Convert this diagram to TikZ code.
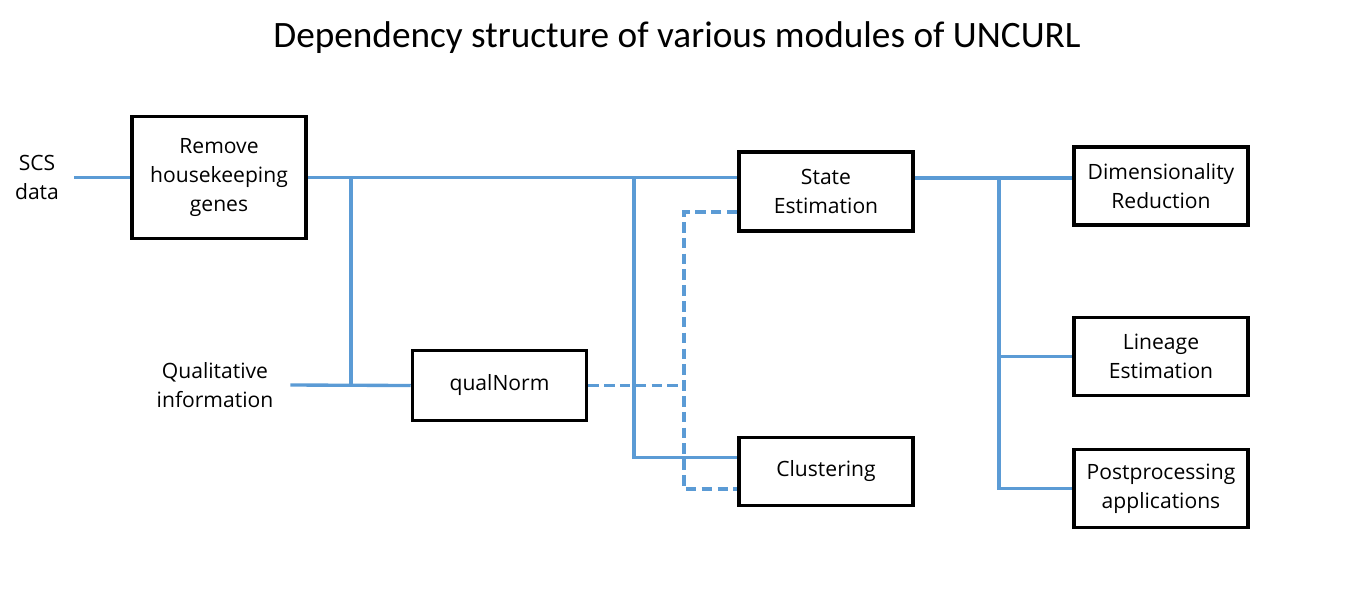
\documentclass[tikz,border=0pt]{standalone}
\usepackage{fontspec}
\setmainfont{Open Sans}
\newfontfamily\titlefont{Carlito}
\usetikzlibrary{calc,positioning}
\definecolor{linkblue}{HTML}{5B9BD5}

\begin{document}
\begin{tikzpicture}[
    align=center,
    font=\fontsize{12}{16.5}\selectfont,
    module/.style={rectangle, minimum width=3.48cm, minimum height=1.56cm,
      line width=2pt, draw=black, fill=white},
    link/.style={linkblue, line width=1.9pt},
    weak/.style={link, dash pattern=on 6pt off 3pt},
    label/.style={inner sep=0pt}
  ]

  \useasboundingbox (0,0) rectangle (27.1,-11.82);

  \node (title) [anchor=base, font=\titlefont\fontsize{21.2}{25}\selectfont]
        at (13.54,-0.94) {Dependency structure of various modules of UNCURL};

  % layout the modules

  \node (rmhk)    [module, minimum height=2.44cm] at (4.38,-3.55)  {Remove\\housekeeping\\genes};
  \node (qnorm)   [module, minimum height=1.40cm] at (9.99,-7.71)  {qualNorm};
  \node (state)   [module, minimum height=1.58cm] at (16.52,-3.83) {State\\Estimation};
  \node (clus)    [module, minimum height=1.36cm] at (16.52,-9.43) {Clustering};

  \node (dimred)  [module] at (23.22,-3.72)  {Dimensionality\\Reduction};
  \node (lineage) [module] at (23.22,-7.13)  {Lineage\\Estimation};
  \node (post)    [module] at (23.22,-9.77)  {Postprocessing\\applications};

  % inputs

  \node (scs)     [label, minimum width=1.48cm] at (0.74,-3.55) {SCS\\data};
  \node (qual)    [label, minimum width=3.0cm]  at (4.30,-7.70) {Qualitative\\information};

  % connector ends and branch points

  \coordinate (stin)  at ($(state.west)+(0,0.27)$);
  \coordinate (stdin) at ($(state.west)+(0,-0.41)$);
  \coordinate (stout) at ($(state.east)+(0,0.27)$);
  \coordinate (clin)  at ($(clus.west)+(0,0.28)$);
  \coordinate (cldin) at ($(clus.west)+(0,-0.35)$);

  \coordinate (ja) at (7.02,0);
  \coordinate (jb) at (12.68,0);
  \coordinate (jd) at (13.68,0);
  \coordinate (jc) at (19.98,0);

  \draw[link] (scs.east) -- (rmhk.west);
  \draw[link] (rmhk.east) -- (rmhk.east -| stin);
  \draw[link] (qual.east) -- (qnorm.west);
  \draw[link] (ja |- rmhk.east) -- (ja |- qnorm.west);
  \draw[link] (jb |- rmhk.east) -- (jb |- clin) -- (clin);

  \draw[weak] (qnorm.east) -- (jd |- qnorm.east);
  \draw[weak] (stdin) -- (jd |- stdin) -- (jd |- cldin) -- (cldin);

  \draw[link] (stout) -- (stout -| dimred.west);
  \draw[link] (jc |- stout) -- (jc |- post.west) -- (post.west);
  \draw[link] (jc |- lineage.west) -- (lineage.west);

\end{tikzpicture}
\end{document}
